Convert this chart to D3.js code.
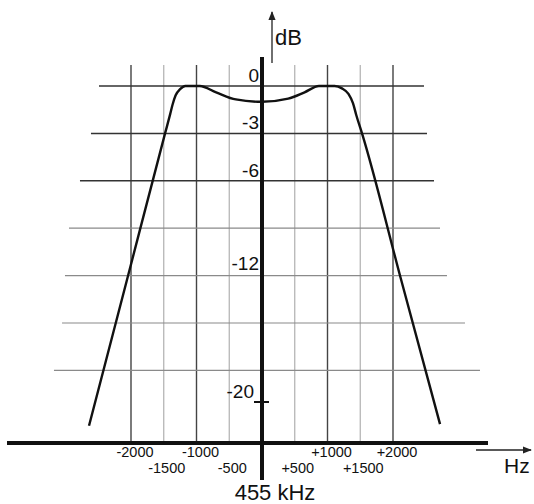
<!DOCTYPE html>
<html>
<head>
<meta charset="utf-8">
<script src="https://cdn.jsdelivr.net/npm/d3@7"></script>
<style>
  body { margin: 0; background: #fff; }
  svg { display: block; font-family: 'Liberation Sans', Arial, sans-serif; }
</style>
</head>
<body>
<svg width="534" height="504"></svg>
<script>
// filter response around 455 kHz, offset in Hz vs attenuation in dB
let offsetHz = [-2641, -2060, -1480, -1400, -1367, -1320, -1250, -1170, -950, -700, -400, 0,
                400, 650, 870, 1110, 1220, 1320, 1390, 1440, 1527, 2120, 2718]
let responseDb = [-21.5, -12.25, -3, -1.75, -1.2, -0.6, -0.2, 0, 0, -0.4, -0.85, -1.0,
                  -0.8, -0.4, 0, 0, -0.15, -0.5, -1.1, -1.85, -3, -12.2, -21.4]

let gridHz = [-2000, -1500, -1000, -500, 500, 1000, 1500, 2000]
let gridDb = [0, -3, -6, -9, -12, -15, -18]
let dbLabels = ['0', '-3', '-6', '-12', '-20']
let upperHzLabels = ['-2000', '-1000', '+1000', '+2000']
let lowerHzLabels = ['-1500', '-500', '+500', '+1500']

let svg = d3.select('svg')

let x = d3.scaleLinear().domain([-2000, 2000]).range([131, 393])
let y = d3.scaleLinear().domain([0, -20]).range([86, 402])

let axisY = 443
// left / right ends of each horizontal grid line (in Hz), they widen going down
let gridLeft = [-2489, -2611, -2779, -2947, -3008, -3053, -3176]
let gridRight = [2473, 2519, 2626, 2718, 2824, 3099, 3328]

// vertical grid
svg.selectAll('.vgrid')
    .data(gridHz)
    .enter()
    .append('line')
    .attr('x1', d => x(d))
    .attr('x2', d => x(d))
    .attr('y1', 65)
    .attr('y2', axisY)
    .attr('stroke', d => d % 1000 === 0 ? '#444' : '#b0b0b0')
    .attr('stroke-width', d => d % 1000 === 0 ? 1.4 : 1.2)

// horizontal grid
svg.selectAll('.hgrid')
    .data(gridDb)
    .enter()
    .append('line')
    .attr('x1', (d, i) => x(gridLeft[i]))
    .attr('x2', (d, i) => x(gridRight[i]))
    .attr('y1', d => y(d))
    .attr('y2', d => y(d))
    .attr('stroke', d => d >= -6 ? '#333' : '#8a8a8a')
    .attr('stroke-width', d => d >= -6 ? 1.5 : 1.2)

// axes
svg.append('line')
    .attr('x1', 7).attr('x2', 488)
    .attr('y1', axisY).attr('y2', axisY)
    .attr('stroke', '#111').attr('stroke-width', 4)

svg.append('line')
    .attr('x1', x(0)).attr('x2', x(0))
    .attr('y1', 57).attr('y2', 480)
    .attr('stroke', '#111').attr('stroke-width', 4)

// -20 tick
svg.append('line')
    .attr('x1', x(0) - 8).attr('x2', x(0) + 7)
    .attr('y1', y(-20)).attr('y2', y(-20))
    .attr('stroke', '#111').attr('stroke-width', 2)

// arrows
svg.append('defs').append('marker')
    .attr('id', 'arrow')
    .attr('viewBox', '0 0 10 10')
    .attr('refX', 9).attr('refY', 5)
    .attr('markerWidth', 7).attr('markerHeight', 7)
    .attr('orient', 'auto')
    .append('path')
    .attr('d', 'M0,1 L10,5 L0,9 Z')
    .attr('fill', '#222')

svg.append('line')
    .attr('x1', 272).attr('x2', 272)
    .attr('y1', 63).attr('y2', 12)
    .attr('stroke', '#222').attr('stroke-width', 1.3)
    .attr('marker-end', 'url(#arrow)')

svg.append('line')
    .attr('x1', 476).attr('x2', 531)
    .attr('y1', 450).attr('y2', 450)
    .attr('stroke', '#222').attr('stroke-width', 1.3)
    .attr('marker-end', 'url(#arrow)')

// response curve
let curvePts = offsetHz.map((f, i) => [f, responseDb[i]])
svg.append('path')
    .datum(curvePts)
    .attr('d', d3.line().x(d => x(d[0])).y(d => y(d[1])).curve(d3.curveMonotoneX))
    .attr('fill', 'none')
    .attr('stroke', '#111')
    .attr('stroke-width', 2.4)

// y labels
svg.selectAll('.ylab')
    .data(dbLabels)
    .enter()
    .append('text')
    .attr('x', d => d === '-20' ? x(0) - 8 : x(0) - 3)
    .attr('y', d => y(+d) - (d === '-12' ? 6 : 4))
    .attr('text-anchor', 'end')
    .attr('font-size', 19)
    .attr('fill', '#111')
    .text(d => d)

// x labels, two staggered rows
svg.selectAll('.xlabU')
    .data(upperHzLabels)
    .enter()
    .append('text')
    .attr('x', d => x(+d) + 4)
    .attr('y', 457)
    .attr('text-anchor', 'middle')
    .attr('font-size', 14.5)
    .attr('fill', '#111')
    .text(d => d)

svg.selectAll('.xlabL')
    .data(lowerHzLabels)
    .enter()
    .append('text')
    .attr('x', d => x(+d) + 3)
    .attr('y', 473)
    .attr('text-anchor', 'middle')
    .attr('font-size', 14.5)
    .attr('fill', '#111')
    .text(d => d)

svg.append('text')
    .attr('x', 275).attr('y', 45)
    .attr('font-size', 22).attr('fill', '#111')
    .text('dB')

svg.append('text')
    .attr('x', 504).attr('y', 473)
    .attr('font-size', 21).attr('fill', '#111')
    .text('Hz')

svg.append('text')
    .attr('x', 275).attr('y', 500)
    .attr('text-anchor', 'middle')
    .attr('font-size', 22).attr('fill', '#111')
    .text('455 kHz')
</script>
</body>
</html>
